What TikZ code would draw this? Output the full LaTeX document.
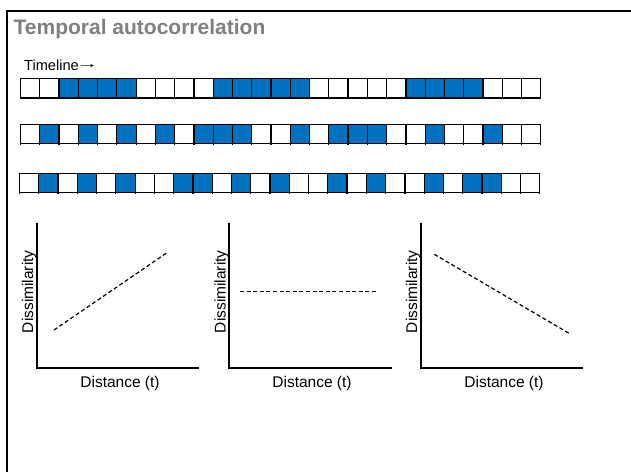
\documentclass[tikz,border=0pt]{standalone}
\usepackage{fontspec}
\setmainfont{Liberation Sans}
\definecolor{cellblue}{HTML}{0070C0}
\definecolor{titlegray}{HTML}{808080}

\begin{document}
\begin{tikzpicture}[x=1pt,y=-1pt,
  cell/.style={draw=black,line width=1.2pt,minimum width=19.27pt,minimum height=19.5pt,
    inner sep=0pt,outer sep=0pt,anchor=north west},
  tick/.style={draw=black,line width=1.2pt},
  axisline/.style={line width=2pt},
  trend/.style={dash pattern=on 4pt off 2.6pt,line width=1.2pt},
  lbl/.style={font=\fontsize{15.5}{18}\selectfont,inner sep=0pt},
  framebar/.style={line width=2.5pt}
]
\useasboundingbox (0,0) rectangle (631,471);
\fill[white] (0,0) rectangle (631,471);

% slide frame (left and top edges)
\draw[framebar] (7,472) -- (7,11) -- (632,11);

% heading and timeline caption
\node[anchor=base west,text=titlegray,font=\bfseries\fontsize{21}{24}\selectfont,inner sep=0pt]
  (title) at (13.5,34.3) {Temporal autocorrelation};
\node[anchor=base west,font=\fontsize{14.6}{17}\selectfont,inner sep=0pt]
  (timeline) at (24,70.5) {Timeline\kern-2.5pt\raisebox{2.5pt}{\scalebox{1.5}[1]{→}}};

% three sequences of time steps (1 = event)
\foreach \r/\x/\y/\pat in {
  1/20.5/78.5/{0,0,1,1,1,1,0,0,0,0,1,1,1,1,1,0,0,0,0,0,1,1,1,1,0,0,0},
  2/20.5/124.3/{0,1,0,1,0,1,0,1,0,1,1,1,0,0,1,0,1,1,1,0,0,1,0,0,1,0,0},
  3/19.5/173.3/{0,1,0,1,0,1,0,0,1,1,0,1,0,1,0,0,1,0,1,0,0,1,0,1,1,0,0}}{
  \foreach \c [count=\i from 0] in \pat {
    \ifnum\c=1
      \node[cell,fill=cellblue] (r\r c\i) at ({\x+19.27*\i},\y) {};
    \else
      \node[cell,fill=white] (r\r c\i) at ({\x+19.27*\i},\y) {};
    \fi
  }
}
% small ticks under the second and third sequences
\foreach \r in {2,3}{
  \foreach \i in {0,...,26}{
    \draw[tick] (r\r c\i.south west) -- ++(0,1.6);
  }
  \draw[tick] (r\r c26.south east) -- ++(0,1.6);
}

% chart 1: rising dissimilarity
\coordinate (a1top) at (36.7,222.7);
\coordinate (a1o) at (36.7,368);
\coordinate (a1end) at (199.3,368);
\draw[axisline] (a1top) -- (a1o) -- (a1end);
\coordinate (t1s) at (54,330);
\coordinate (t1e) at (167,252.7);
\draw[trend] (t1s) -- (t1e);
\node[lbl,anchor=base] (x1) at (120,387.3) {Distance (t)};
\node[lbl,rotate=90,anchor=base] (y1) at (33,291.7) {Dissimilarity};

% chart 2: flat dissimilarity
\coordinate (a2top) at (228.7,222.7);
\coordinate (a2o) at (228.7,368);
\coordinate (a2end) at (391.7,368);
\draw[axisline] (a2top) -- (a2o) -- (a2end);
\coordinate (t2s) at (240,291.7);
\coordinate (t2e) at (376,291.7);
\draw[trend] (t2s) -- (t2e);
\node[lbl,anchor=base] (x2) at (312,387.3) {Distance (t)};
\node[lbl,rotate=90,anchor=base] (y2) at (225.5,291.7) {Dissimilarity};

% chart 3: falling dissimilarity
\coordinate (a3top) at (421,222.7);
\coordinate (a3o) at (421,368);
\coordinate (a3end) at (583.3,368);
\draw[axisline] (a3top) -- (a3o) -- (a3end);
\coordinate (t3s) at (434.3,254.3);
\coordinate (t3e) at (570.7,334.3);
\draw[trend] (t3s) -- (t3e);
\node[lbl,anchor=base] (x3) at (504,387.3) {Distance (t)};
\node[lbl,rotate=90,anchor=base] (y3) at (417,291.7) {Dissimilarity};
\end{tikzpicture}
\end{document}
